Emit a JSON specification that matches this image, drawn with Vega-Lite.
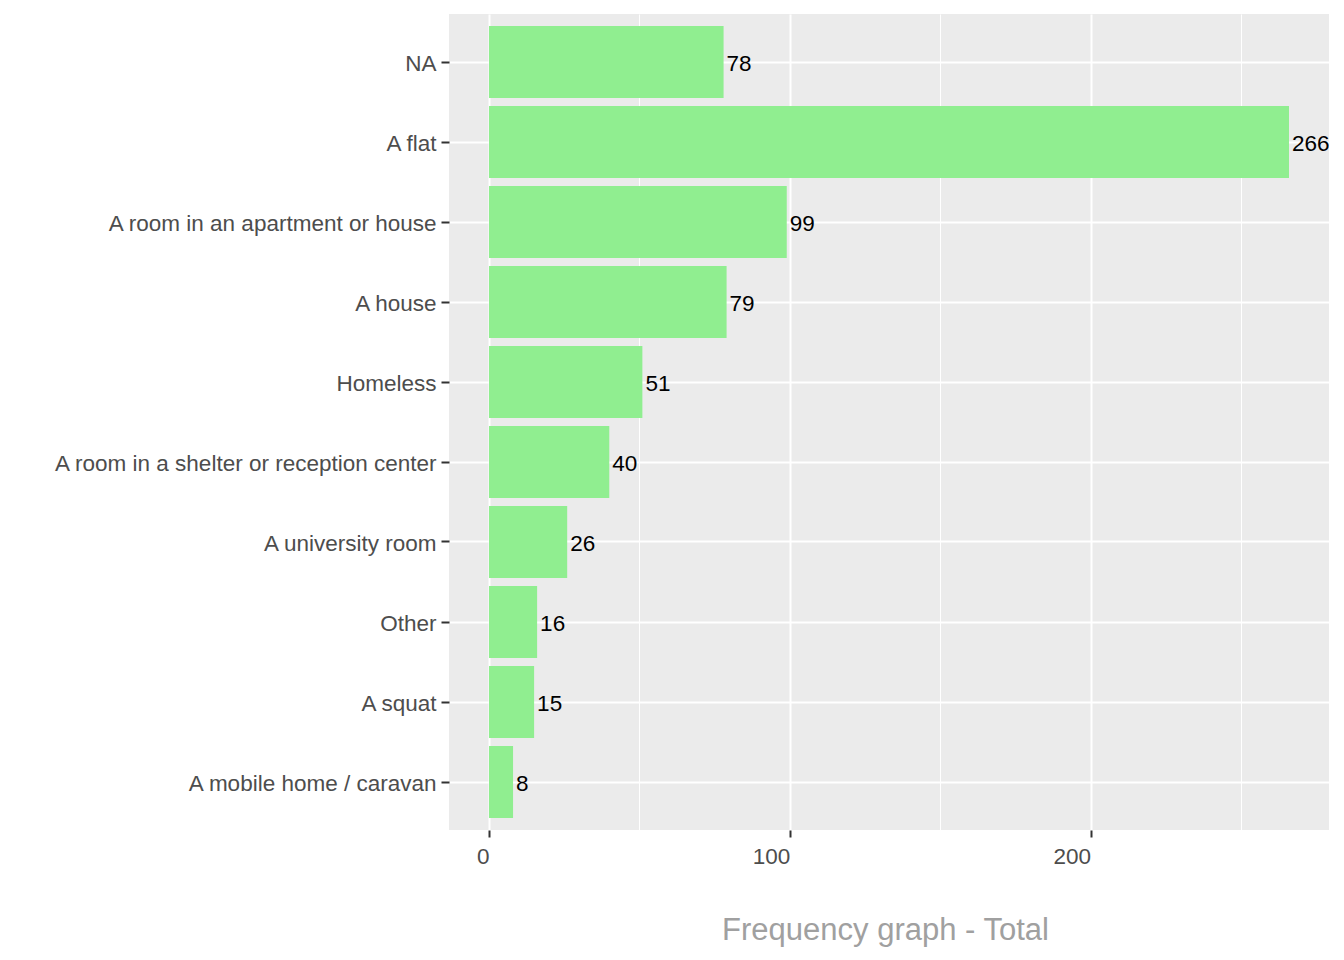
{
  "$schema": "https://vega.github.io/schema/vega-lite/v6.json",
  "width": 880,
  "height": 816,
  "autosize": {"type": "none"},
  "padding": {"left": 449, "top": 14, "right": 15, "bottom": 130},
  "background": "#FFFFFF",
  "config": {
    "font": "Liberation Sans",
    "view": {"fill": "#EBEBEB", "stroke": null}
  },
  "data": {
    "values": [
      {"category": "NA", "count": 78},
      {"category": "A flat", "count": 266},
      {"category": "A room in an apartment or house", "count": 99},
      {"category": "A house", "count": 79},
      {"category": "Homeless", "count": 51},
      {"category": "A room in a shelter or reception center", "count": 40},
      {"category": "A university room", "count": 26},
      {"category": "Other", "count": 16},
      {"category": "A squat", "count": 15},
      {"category": "A mobile home / caravan", "count": 8}
    ]
  },
  "encoding": {
    "y": {
      "field": "category",
      "type": "nominal",
      "sort": null,
      "scale": {"paddingInner": 0.1, "paddingOuter": 0.15},
      "axis": {
        "title": null,
        "domain": false,
        "grid": true,
        "gridColor": "#FFFFFF",
        "gridWidth": 2,
        "ticks": true,
        "tickColor": "#333333",
        "tickWidth": 2,
        "tickSize": 8,
        "labelPadding": 5,
        "labelOffset": 2,
        "labelFontSize": 22.5,
        "labelColor": "#4D4D4D",
        "labelFont": "Liberation Sans",
        "labelLimit": 600
      }
    },
    "x": {
      "field": "count",
      "type": "quantitative",
      "scale": {"domain": [-13.3, 279.3], "nice": false, "zero": false},
      "axis": {
        "title": "Frequency graph - Total",
        "titleFontSize": 31,
        "titleFont": "Liberation Sans",
        "titleFontWeight": "normal",
        "titleColor": "#A0A0A0",
        "titleX": 436,
        "titleAlign": "center",
        "titleY": 109,
        "titleBaseline": "alphabetic",
        "domain": false,
        "values": [0, 50, 100, 150, 200, 250],
        "grid": true,
        "gridColor": "#FFFFFF",
        "gridWidth": {"condition": {"test": "datum.value % 100 === 0", "value": 2}, "value": 1},
        "tickColor": "#333333",
        "tickWidth": 2,
        "tickSize": 7,
        "tickOpacity": {"condition": {"test": "datum.value % 100 === 0", "value": 1}, "value": 0},
        "labelExpr": "datum.value % 100 === 0 ? datum.label : ''",
        "labelAlign": "right",
        "labelPadding": 8,
        "labelFontSize": 22.5,
        "labelColor": "#4D4D4D",
        "labelFont": "Liberation Sans"
      }
    }
  },
  "layer": [
    {
      "mark": {"type": "bar", "color": "#90EE90"},
      "encoding": {"x2": {"datum": 0}}
    },
    {
      "mark": {
        "type": "text",
        "align": "left",
        "baseline": "middle",
        "dx": 3,
        "dy": 2,
        "fontSize": 22.5,
        "font": "Liberation Sans",
        "color": "#000000",
        "clip": true
      },
      "encoding": {"text": {"field": "count", "type": "quantitative"}}
    }
  ]
}
